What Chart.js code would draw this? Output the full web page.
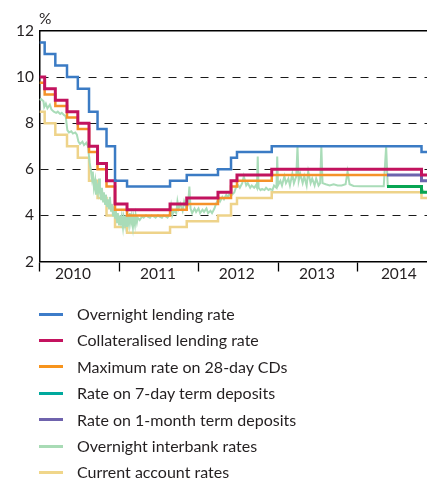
<!DOCTYPE html>
<html><head><meta charset="utf-8">
<script src="https://cdn.jsdelivr.net/npm/chart.js@4.4.1/dist/chart.umd.min.js"></script>
<style>
html,body{margin:0;padding:0;background:#fff;}
#wrap{position:relative;width:427px;height:481px;overflow:hidden;font-family:Lato,sans-serif;}
#cbox{position:absolute;left:0;top:0;width:427px;height:292px;}
#legend{position:absolute;left:0;top:0;width:427px;height:481px;pointer-events:none;}
.item{position:absolute;left:0;height:20px;width:427px;}
.sw{position:absolute;left:39px;width:24px;height:3px;top:8.5px;}
.lb{position:absolute;left:77px;top:0;font-size:16px;line-height:20px;color:#231f20;white-space:nowrap;}
</style></head>
<body><div id="wrap"><div id="cbox"><canvas id="cv"></canvas></div><div id="legend"></div></div>
<script>
// ---- data (decimal years) ----
const policyDates = [2010.000, 2010.065, 2010.199, 2010.346, 2010.482, 2010.623, 2010.730, 2010.843, 2010.950, 2011.101, 2011.642, 2011.852, 2012.245, 2012.409, 2012.484, 2012.921, 2014.371, 2014.805, 2014.874];
const overnightLending   = [11.5, 11, 10.5, 10, 9.5, 8.5, 7.75, 7, 5.5, 5.25, 5.5, 5.75, 6, 6.5, 6.75, 7, 7, 6.75, 6.75];
const collateralised     = [10, 9.5, 9, 8.5, 8, 7, 6.25, 5.5, 4.5, 4.25, 4.5, 4.75, 5, 5.5, 5.75, 6, 6, 5.75, 5.75];
const maxRate28dCDs      = [9.75, 9.25, 8.75, 8.25, 7.75, 6.75, 6, 5.25, 4.25, 4, 4.25, 4.5, 4.75, 5.25, 5.5, 5.75, 5.75, null, null];
const rate7dDeposits     = [null, null, null, null, null, null, null, null, null, null, null, null, null, null, null, null, 5.25, 5, 5];
const rate1mDeposits     = [null, null, null, null, null, null, null, null, null, null, null, null, null, null, null, null, 5.75, 5.5, 5.5];
const currentAccount     = [8.5, 8, 7.5, 7, 6.5, 5.5, 4.75, 4, 3.5, 3.25, 3.5, 3.75, 4, 4.5, 4.75, 5, 5, 4.75, 4.75];

const interbankDates = [2010.00,2010.02,2010.05,2010.06,2010.08,2010.10,2010.13,2010.15,2010.18,2010.21,2010.23,2010.26,2010.28,2010.31,2010.33,2010.35,2010.37,2010.40,2010.42,2010.45,2010.47,2010.49,2010.51,2010.54,2010.56,2010.59,2010.61,2010.63,2010.645,2010.66,2010.67,2010.685,2010.70,2010.71,2010.72,2010.735,2010.75,2010.76,2010.775,2010.785,2010.80,2010.81,2010.825,2010.835,2010.85,2010.86,2010.875,2010.885,2010.90,2010.91,2010.925,2010.935,2010.95,2010.96,2010.975,2010.985,2011.00,2011.01,2011.025,2011.035,2011.05,2011.06,2011.075,2011.085,2011.10,2011.11,2011.125,2011.135,2011.15,2011.16,2011.175,2011.185,2011.20,2011.21,2011.225,2011.235,2011.26,2011.29,2011.31,2011.34,2011.36,2011.39,2011.41,2011.44,2011.46,2011.49,2011.51,2011.54,2011.56,2011.59,2011.61,2011.64,2011.655,2011.67,2011.69,2011.72,2011.735,2011.75,2011.77,2011.80,2011.82,2011.85,2011.87,2011.885,2011.90,2011.92,2011.95,2011.97,2012.00,2012.02,2012.05,2012.07,2012.10,2012.12,2012.15,2012.17,2012.20,2012.22,2012.25,2012.27,2012.30,2012.32,2012.35,2012.37,2012.40,2012.42,2012.45,2012.47,2012.50,2012.52,2012.55,2012.57,2012.60,2012.62,2012.65,2012.67,2012.70,2012.72,2012.735,2012.745,2012.755,2012.78,2012.80,2012.83,2012.85,2012.88,2012.90,2012.93,2012.95,2012.98,2012.99,2013.00,2013.03,2013.05,2013.08,2013.10,2013.13,2013.15,2013.18,2013.20,2013.23,2013.245,2013.26,2013.28,2013.31,2013.33,2013.36,2013.38,2013.41,2013.43,2013.46,2013.48,2013.51,2013.53,2013.545,2013.56,2013.60,2013.65,2013.70,2013.75,2013.80,2013.85,2013.875,2013.90,2013.95,2014.03,2014.10,2014.18,2014.25,2014.33,2014.36,2014.38,2014.43,2014.53,2014.66,2014.79,2014.82,2014.84,2014.874];
const interbankRates = [9.0,9.05,8.95,8.7,8.85,8.65,8.8,8.6,8.5,8.45,8.5,8.4,8.45,8.35,8.3,7.7,7.6,7.65,7.55,7.6,7.5,7.2,7.1,7.2,7.05,7.15,7.0,6.3,6.0,5.6,5.9,5.2,5.5,4.9,5.3,5.0,5.6,5.0,4.7,5.2,4.6,5.0,4.5,4.9,4.4,4.7,4.3,4.8,4.2,4.5,4.0,4.4,3.9,4.2,3.7,4.1,3.6,4.0,3.7,3.95,3.5,3.9,3.6,4.0,3.5,3.9,3.6,4.1,3.7,3.95,3.5,3.9,3.6,4.0,3.7,3.9,3.8,3.95,3.9,4.0,3.95,3.9,4.0,3.95,3.9,4.0,3.95,3.9,4.0,3.95,3.9,4.05,4.4,4.0,4.2,4.1,4.6,4.3,4.5,4.2,4.6,4.3,4.5,5.25,4.3,4.1,4.3,4.15,4.3,4.1,4.25,4.15,4.3,4.1,4.2,4.1,4.3,4.5,4.7,4.6,4.8,4.7,4.9,4.8,5.0,4.9,5.0,5.2,5.3,5.2,5.4,5.7,5.3,5.4,5.2,5.3,5.2,5.3,5.2,6.55,5.2,5.1,5.15,5.1,5.2,5.1,5.15,5.1,5.3,5.2,6.55,5.3,5.5,5.3,5.7,5.4,5.6,5.3,5.8,5.4,5.7,7.0,5.5,5.8,5.4,5.7,5.3,5.9,5.4,5.6,5.3,5.6,5.3,5.4,7.0,5.4,5.35,5.3,5.35,5.3,5.3,5.35,5.9,5.35,5.28,5.27,5.27,5.26,5.27,5.27,7.0,5.3,5.25,5.25,5.25,5.25,5.1,5.0,5.0];

const seriesNames = ['Overnight lending rate','Collateralised lending rate','Maximum rate on 28-day CDs','Rate on 7-day term deposits','Rate on 1-month term deposits','Overnight interbank rates','Current account rates'];
const yearTicks = [2010, 2011, 2012, 2013, 2014];
const yearLabels = ['2010','2011','2012','2013','2014'];
const yearLabelAt = [2010.42, 2011.49, 2012.48, 2013.49, 2014.52];
const yTicks = [2, 4, 6, 8, 10, 12];
const xMin = 2010, xMax = 2014.874;

// ---- styles ----
const lineColors   = ['#3b7bc4','#c2135e','#f5922a','#07a552','#6c64ad','#a9dcb8','#eed38a'];
const legendColors = ['#3d7cc9','#c4135f','#f7941d','#00a99d','#6f63ad','#a8dbb5','#f0d68a'];
const lineWidths   = [2.5, 3, 2.5, 3, 3, 2, 2.5];

const pts = (d, v) => d.map((x, i) => ({x: x, y: v[i]}));
const policySeries = [overnightLending, collateralised, maxRate28dCDs, rate7dDeposits, rate1mDeposits];

const datasets = [];
policySeries.forEach((vals, i) => datasets.push({label: seriesNames[i], data: pts(policyDates, vals), stepped: 'before'}));
datasets.push({label: seriesNames[5], data: pts(interbankDates, interbankRates), stepped: false});
datasets.push({label: seriesNames[6], data: pts(policyDates, currentAccount), stepped: 'before'});
datasets.forEach((ds, i) => Object.assign(ds, {borderColor: lineColors[i], backgroundColor: lineColors[i], borderWidth: lineWidths[i], pointRadius: 0, tension: 0, fill: false, spanGaps: false, borderCapStyle: 'butt', borderJoinStyle: 'miter'}));

const tickVals = [];
yearTicks.forEach((v, i) => { tickVals.push({value: v, label: ''}); tickVals.push({value: yearLabelAt[i], label: yearLabels[i]}); });

const pctPlugin = {
  id: 'pct',
  afterDraw(chart) {
    const {ctx, chartArea} = chart;
    ctx.save();
    ctx.font = '15.5px Lato';
    ctx.fillStyle = '#231f20';
    ctx.textBaseline = 'middle';
    ctx.textAlign = 'left';
    ctx.fillText('%', chartArea.left - 0.5, chartArea.top - 12.5);
    ctx.restore();
  }
};

new Chart(document.getElementById('cv'), {
  type: 'line',
  data: {datasets},
  plugins: [pctPlugin],
  options: {
    responsive: true, maintainAspectRatio: false, animation: false,
    layout: {padding: {top: 31, left: 0, right: 0, bottom: 0}},
    plugins: {legend: {display: false}, tooltip: {enabled: false}},
    scales: {
      x: {
        type: 'linear', position: 'bottom', min: xMin, max: xMax,
        afterBuildTicks: s => { s.ticks = tickVals.map(t => ({value: t.value})); },
        afterFit: s => { s.height = 30.5; },
        ticks: {autoSkip: false, maxRotation: 0, minRotation: 0, padding: -6.5, font: {family: 'Lato', size: 15.5}, color: '#231f20',
          callback: v => { const t = tickVals.find(o => Math.abs(o.value - v) < 1e-6); return t ? t.label : ''; }},
        grid: {drawOnChartArea: false, drawTicks: true, tickLength: 10, tickWidth: 1.3,
          tickColor: c => (c.tick && yearTicks.includes(c.tick.value)) ? '#000' : 'rgba(0,0,0,0)'},
        border: {display: true, color: '#000', width: 1.5}
      },
      xTop: {
        type: 'linear', position: 'top', min: 0, max: 1, display: true,
        ticks: {display: false}, grid: {display: false, drawTicks: false},
        border: {display: true, color: '#000', width: 1.5},
        afterFit: s => { s.height = 0; }
      },
      y: {
        min: 2, max: 12,
        afterBuildTicks: s => { s.ticks = yTicks.map(v => ({value: v})); },
        afterFit: s => { s.width = 39.5; },
        ticks: {padding: 5.5, font: {family: 'Lato', size: 15.5}, color: '#231f20', callback: v => String(v)},
        grid: {drawTicks: false, lineWidth: 1, color: c => (c.tick && [4, 6, 8, 10].includes(c.tick.value)) ? '#1a1a1a' : 'rgba(0,0,0,0)'},
        border: {display: true, color: '#000', width: 1.5, dash: [8, 8]}
      }
    }
  }
});

// ---- legend (real text) ----
const lg = document.getElementById('legend');
seriesNames.forEach((name, i) => {
  const it = document.createElement('div');
  it.className = 'item';
  it.style.top = (314 + i * 26.4 - 10) + 'px';
  const sw = document.createElement('div');
  sw.className = 'sw'; sw.style.background = legendColors[i];
  const lb = document.createElement('div');
  lb.className = 'lb'; lb.textContent = name;
  it.appendChild(sw); it.appendChild(lb); lg.appendChild(it);
});
</script>
</body></html>
